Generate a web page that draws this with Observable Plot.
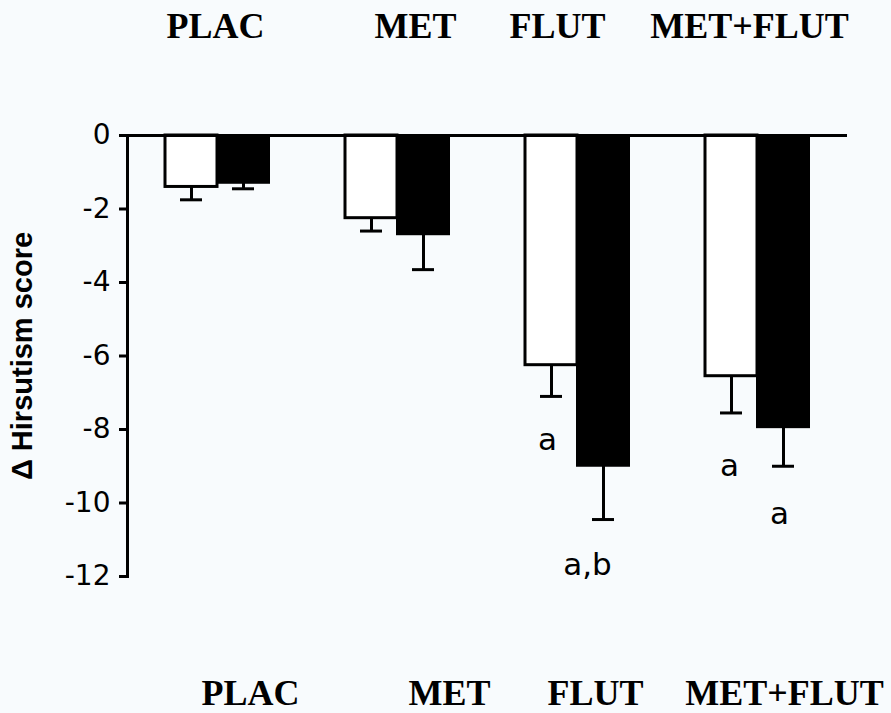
<!DOCTYPE html>
<html>
<head>
<meta charset="utf-8">
<script src="https://cdn.jsdelivr.net/npm/d3@7"></script>
<script src="https://cdn.jsdelivr.net/npm/@observablehq/plot@0.6"></script>
<style>
  html, body { margin: 0; padding: 0; background: #f8fbfd; }
  #chart svg { display: block; background: #f8fbfd; }
</style>
</head>
<body>
<div id="chart"></div>
<script>
const groups = ["PLAC", "MET", "FLUT", "MET+FLUT"];
const whiteMeans = [-1.4, -2.25, -6.25, -6.55];
const whiteErrLows = [-1.75, -2.6, -7.1, -7.55];
const blackMeans = [-1.3, -2.7, -9.0, -7.95];
const blackErrLows = [-1.45, -3.65, -10.45, -9.0];
const yTicks = [0, -2, -4, -6, -8, -10, -12];
const yLabel = "Δ Hirsutism score";
const annotGroups = ["FLUT", "FLUT", "MET+FLUT", "MET+FLUT"];
const annotTexts = ["a", "a,b", "a", "a"];
const annotValues = [-8.3, -11.7, -9.0, -10.3];

const white = groups.map((g, i) => ({group: g, mean: whiteMeans[i], low: whiteErrLows[i]}));
const black = groups.map((g, i) => ({group: g, mean: blackMeans[i], low: blackErrLows[i]}));

const serif = "'Liberation Serif', 'Times New Roman', serif";
const sans = "'Liberation Sans', Arial, sans-serif";
const wide = "'DejaVu Sans', Verdana, sans-serif";

// label placement offsets (px) relative to group centre
const topDx = [-2, 18, -20, -8];
const bottomDx = [33, 52, 18, 27];
const annotDx = [-30, 10, -28, 22];

const labelMarks = [];
groups.forEach((g, i) => {
  labelMarks.push(Plot.text([g], {x: d => d, text: d => d, frameAnchor: "top", lineAnchor: "bottom",
    dy: -98, dx: topDx[i], fontSize: 36, fontWeight: "bold", fontFamily: serif, fill: "black"}));
  labelMarks.push(Plot.text([g], {x: d => d, text: d => d, frameAnchor: "bottom", lineAnchor: "bottom",
    dy: 128, dx: bottomDx[i], fontSize: 36, fontWeight: "bold", fontFamily: serif, fill: "black"}));
});
annotTexts.forEach((t, i) => {
  labelMarks.push(Plot.text([{g: annotGroups[i], v: annotValues[i], t}], {x: "g", y: "v", text: "t",
    dx: annotDx[i], fontSize: 31, fontFamily: wide, fill: "black"}));
});

const chart = Plot.plot({
  width: 891,
  height: 713,
  marginTop: 135,
  marginBottom: 137,
  marginLeft: 127,
  marginRight: 44,
  style: {background: "#f8fbfd", overflow: "visible"},
  x: {type: "band", domain: groups, padding: 0, axis: null},
  y: {domain: [-12, 0], axis: null},
  marks: [
    Plot.barY(white, {x: "group", y1: 0, y2: "mean", insetLeft: 38, insetRight: 90,
      fill: "white", stroke: "black", strokeWidth: 3}),
    Plot.barY(black, {x: "group", y1: 0, y2: "mean", insetLeft: 90, insetRight: 38,
      fill: "black", stroke: "black", strokeWidth: 2}),
    Plot.ruleX(white, {x: "group", y1: "mean", y2: "low", dx: -26, strokeWidth: 3}),
    Plot.ruleX(black, {x: "group", y1: "mean", y2: "low", dx: 26, strokeWidth: 3}),
    Plot.tickY(white, {x: "group", y: "low", insetLeft: 53, insetRight: 105, strokeWidth: 3}),
    Plot.tickY(black, {x: "group", y: "low", insetLeft: 105, insetRight: 53, strokeWidth: 3}),
    Plot.ruleY([0], {strokeWidth: 3}),
    Plot.frame({anchor: "left", strokeWidth: 3}),
    Plot.axisY({ticks: yTicks, tickSize: 8, strokeWidth: 3, tickFormat: () => "", label: null}),
    Plot.text(yTicks, {y: d => d, text: d => String(d), frameAnchor: "left", textAnchor: "end",
      dx: -17, fontSize: 28, fontFamily: wide, fill: "black"}),
    Plot.text([yLabel], {frameAnchor: "left", textAnchor: "middle", rotate: -90, dx: -96, lineAnchor: "bottom",
      fontSize: 29, fontWeight: "bold", fontFamily: sans, fill: "black"}),
    ...labelMarks
  ]
});
document.getElementById("chart").appendChild(chart);
</script>
</body>
</html>
